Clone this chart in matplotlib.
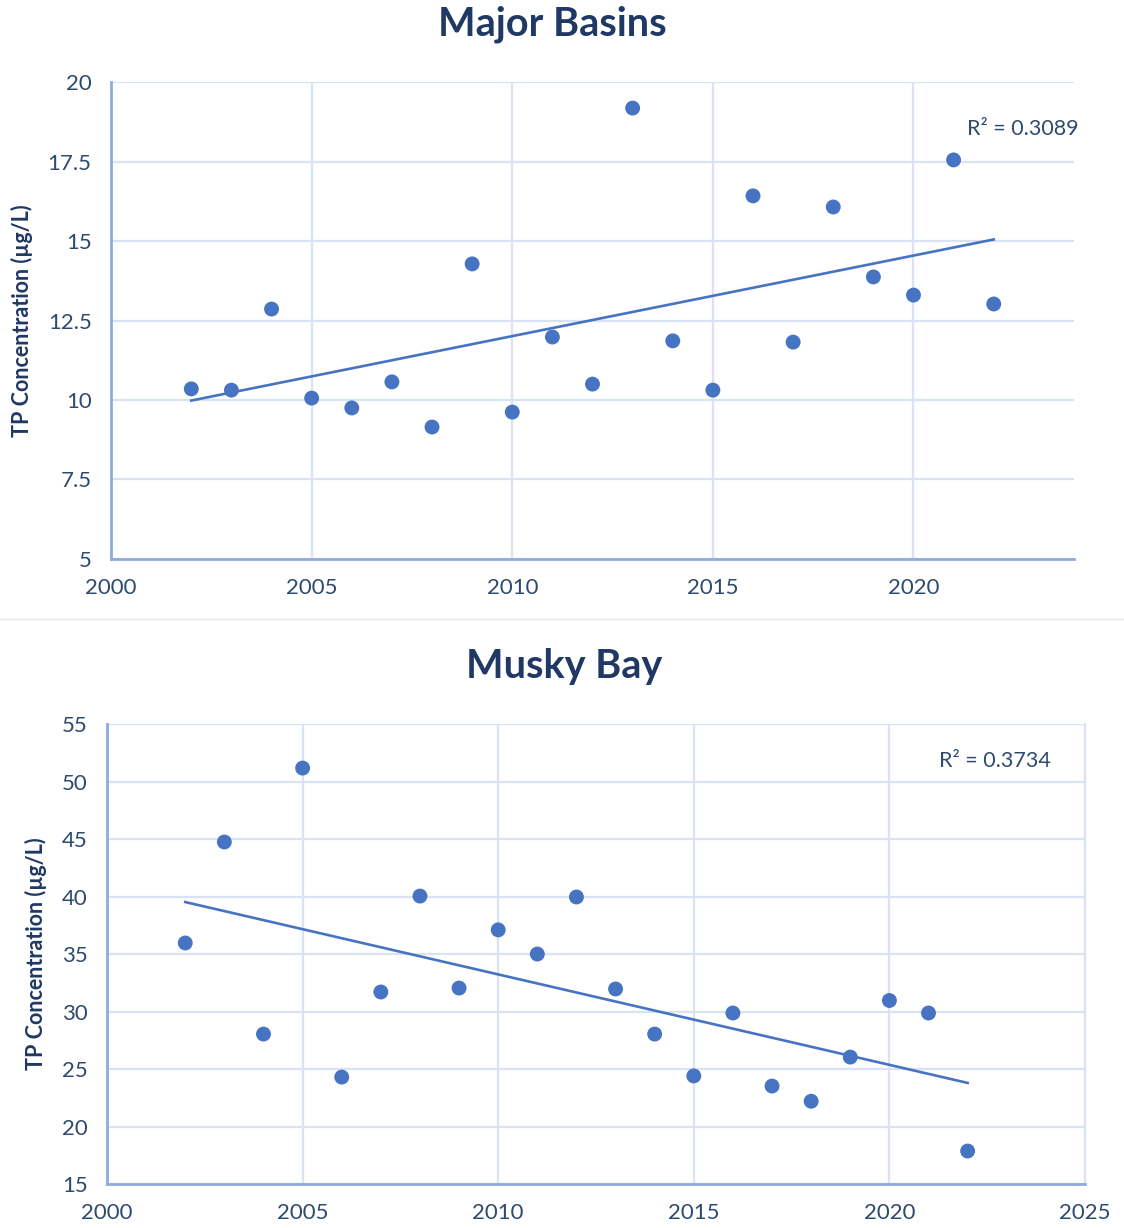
import numpy as np
import matplotlib
matplotlib.use("Agg")
import matplotlib.pyplot as plt
from matplotlib.lines import Line2D

plt.rcParams['font.family'] = ['Lato', 'DejaVu Sans']

# data
years = list(range(2002, 2023))
major_tp = [10.35, 10.31, 12.86, 10.06, 9.75, 10.57, 9.15, 14.28, 9.62, 11.98,
            10.50, 19.18, 11.86, 10.31, 16.42, 11.82, 16.07, 13.87, 13.30, 17.55, 13.02]
musky_tp = [35.96, 44.74, 28.04, 51.17, 24.3, 31.7, 40.04, 32.04, 37.1, 35.0,
            39.96, 31.96, 28.04, 24.4, 29.87, 23.52, 22.2, 26.04, 30.96, 29.87, 17.87]
titles = ['Major Basins', 'Musky Bay']
r2_labels = ['R\u00b2 = 0.3089', 'R\u00b2 = 0.3734']
ylabel = 'TP Concentration (\u00b5g/L)'

DOT = '#4674C2'
GRID = '#D9E3F3'
AXIS = '#8FAADC'
TEXT = '#1F3864'
TICK = '#2E4A6E'

fig = plt.figure(figsize=(11.24, 12.28), dpi=100)


def draw_panel(ax, x, y, xlim, ylim, yticks, r2, r2_pos, right_border):
    ax.set_xlim(*xlim)
    ax.set_ylim(*ylim)
    ax.set_xticks(range(2000, 2026, 5) if xlim[1] >= 2025 else range(2000, 2021, 5))
    ax.set_yticks(yticks)
    ax.set_yticklabels([f'{t:g}' for t in yticks])
    ax.grid(True, color=GRID, lw=1.6)
    ax.set_axisbelow(True)
    for s in ['top', 'right']:
        ax.spines[s].set_visible(False)
    if right_border:
        ax.spines['right'].set_visible(True)
        ax.spines['right'].set_color(GRID)
        ax.spines['right'].set_linewidth(1.6)
    for s in ['left', 'bottom']:
        ax.spines[s].set_color(AXIS)
        ax.spines[s].set_linewidth(2)
    ax.tick_params(length=0, labelsize=16, colors=TICK)
    ax.tick_params(axis='x', pad=14)
    ax.tick_params(axis='y', pad=14)
    ax.set_ylabel(ylabel, fontsize=15.5, fontweight='bold', color=TEXT)

    xs = np.array(x, dtype=float)
    ys = np.array(y, dtype=float)
    slope, icpt = np.polyfit(xs, ys, 1)
    xl = np.array([xs.min(), xs.max()])
    ax.plot(xl, slope * xl + icpt, color=DOT, lw=1.9, zorder=2)
    ax.scatter(xs, ys, s=115, color=DOT, zorder=3, edgecolors='none')
    ax.text(r2_pos[0], r2_pos[1], r2, transform=ax.transAxes, ha='right', va='center',
            fontsize=15.5, color=TICK)


ax1 = fig.add_axes([0.0988, 0.5448, 0.8567, 0.3884])
draw_panel(ax1, years, major_tp, (2000, 2024), (5, 20), [5, 7.5, 10, 12.5, 15, 17.5, 20],
           r2_labels[0], (1.005, 0.901), False)
ax1.yaxis.set_label_coords(-0.081, 0.5)

ax2 = fig.add_axes([0.0952, 0.0358, 0.8701, 0.3746])
draw_panel(ax2, years, musky_tp, (2000, 2025), (15, 55), list(range(15, 56, 5)),
           r2_labels[1], (0.965, 0.92), True)
ax2.yaxis.set_label_coords(-0.061, 0.5)

fig.text(0.491, 0.980, titles[0], ha='center', va='center', fontsize=28.5,
         fontweight='bold', color=TEXT)
fig.text(0.502, 0.457, titles[1], ha='center', va='center', fontsize=28.5,
         fontweight='bold', color=TEXT)

fig.add_artist(Line2D([0, 1], [1 - 619 / 1228] * 2, color='#E6E6E6', lw=1))

fig.savefig('out.png', dpi=100, facecolor='white')
